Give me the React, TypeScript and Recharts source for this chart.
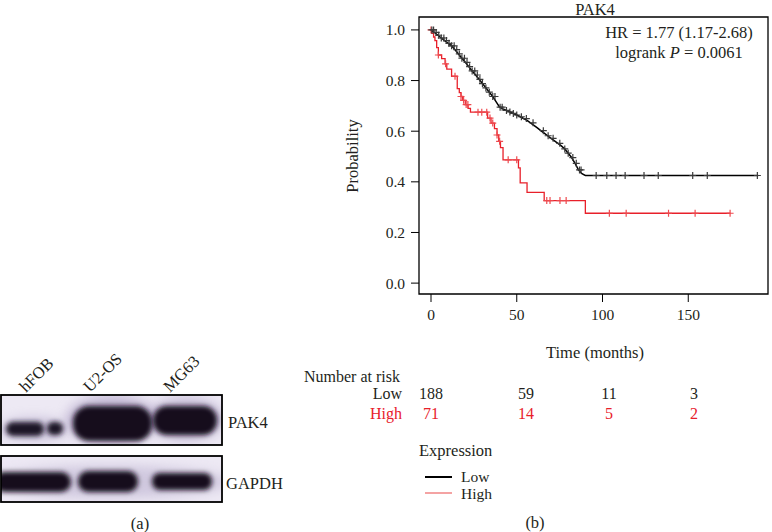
import { ComposedChart, Line, Scatter, XAxis, YAxis, ReferenceArea } from 'recharts'

// Kaplan-Meier steps
const lowTime = [0, 2, 4, 6, 8, 10, 12, 14, 16, 18, 20, 22, 24, 26, 28, 30, 32, 34, 36, 38, 40, 42, 44, 46, 48, 50, 52, 54, 56, 58, 60, 62, 64, 66, 68, 70, 72, 74, 76, 78, 80, 82, 84, 86, 88, 90, 190.8]
const lowSurv = [1.0, 0.99, 0.979, 0.968, 0.958, 0.947, 0.937, 0.922, 0.905, 0.888, 0.872, 0.855, 0.838, 0.822, 0.805, 0.788, 0.771, 0.754, 0.737, 0.716, 0.695, 0.688, 0.682, 0.676, 0.67, 0.664, 0.657, 0.65, 0.643, 0.633, 0.623, 0.613, 0.602, 0.592, 0.582, 0.572, 0.562, 0.552, 0.542, 0.53, 0.513, 0.496, 0.473, 0.447, 0.432, 0.425, 0.425]

const highTime = [0, 0.5, 1.5, 2.3, 3.3, 4.3, 6.2, 8.2, 9.2, 12, 15.3, 16.5, 17.5, 18.5, 20, 21.6, 23, 33, 35, 37, 38.5, 39.5, 40.5, 42, 51, 52, 56, 66, 90, 174.5]
const highSurv = [1.0, 0.986, 0.972, 0.958, 0.93, 0.901, 0.887, 0.866, 0.845, 0.817, 0.768, 0.752, 0.737, 0.722, 0.705, 0.69, 0.675, 0.652, 0.632, 0.61, 0.585, 0.56, 0.535, 0.487, 0.455, 0.396, 0.358, 0.326, 0.276, 0.276]

// censoring times
const lowCensor = [0.5, 1.5, 3, 4.5, 6, 7.5, 9, 10.5, 12, 13.5, 15, 16.5, 18, 19.5, 21, 22.5, 24, 25.5, 27, 28.5, 30, 32, 34, 36, 37.3, 40.3, 41.5, 44, 46, 48, 50, 52.7, 55.6, 59.5, 65.5, 68.3, 71.2, 75.1, 78, 80, 82.7, 84.7, 86.6, 87.5, 96.3, 102.5, 107.9, 113.2, 124.2, 132.5, 152.6, 161.1, 190.3]
const highCensor = [0, 4.3, 8.5, 14, 17.5, 19, 20.5, 21.5, 27.4, 29.6, 32.5, 34.4, 36, 38.5, 40, 45, 50, 67.5, 69.4, 75.2, 78.8, 104, 113.8, 138.5, 154, 174.4]

const xTicks = [0, 50, 100, 150]
const yTicks = [0, 0.2, 0.4, 0.6, 0.8, 1.0]

const riskGroups = ['Low', 'High']
const riskLow = ['188', '59', '11', '3']
const riskHigh = ['71', '14', '5', '2']

const lanes = ['hFOB', 'U2-OS', 'MG63']

const FONT = '"Liberation Serif", "DejaVu Serif", serif'
const INK = '#231f20'
const RED = '#e8202a'
const FS = 16.5

function stepAt(times: number[], surv: number[], t: number) {
    let s = surv[0]
    for (let i = 0; i < times.length; i++) {
        if (times[i] <= t) s = surv[i]
    }
    return s
}

const lowData = lowTime.map((t, i) => ({ t, s: lowSurv[i] }))
const highData = highTime.map((t, i) => ({ t, s: highSurv[i] }))
const lowMarks = lowCensor.map(t => ({ t, s: stepAt(lowTime, lowSurv, t) }))
const highMarks = highCensor.map(t => ({ t, s: stepAt(highTime, highSurv, t) }))

// "+" censor mark
function plus(color: string) {
    return (props: any) => {
        const { cx, cy } = props
        return (
            <path
                d={`M${cx - 3.5},${cy}H${cx + 3.5}M${cx},${cy - 3.5}V${cy + 3.5}`}
                stroke={color}
                strokeWidth={1.2}
                fill="none"
            />
        )
    }
}

const txt = (extra: any) => ({
    position: 'absolute' as const,
    fontFamily: FONT,
    fontSize: FS,
    color: INK,
    lineHeight: '12px',
    whiteSpace: 'nowrap' as const,
    ...extra,
})

function Blot() {
    return (
        <svg width={300} height={532} style={{ position: 'absolute', left: 0, top: 0 }}>
            <defs>
                <filter id="bl" x="-30%" y="-60%" width="160%" height="220%">
                    <feGaussianBlur stdDeviation="2.6" />
                </filter>
                <filter id="hz" x="-40%" y="-80%" width="180%" height="260%">
                    <feGaussianBlur stdDeviation="6" />
                </filter>
                <clipPath id="c1"><rect x={1} y={395} width={221} height={50} /></clipPath>
                <clipPath id="c2"><rect x={1} y={456} width={221} height={46} /></clipPath>
            </defs>
            <rect x={1} y={395} width={221} height={50} fill="#ede9f4" />
            <g clipPath="url(#c1)">
                <ellipse cx={34} cy={429} rx={34} ry={11} fill="#a395bd" opacity={0.5} filter="url(#hz)" />
                <ellipse cx={112} cy={420} rx={46} ry={24} fill="#9a88b6" opacity={0.55} filter="url(#hz)" />
                <ellipse cx={186} cy={419} rx={38} ry={21} fill="#9a88b6" opacity={0.5} filter="url(#hz)" />
                <rect x={6} y={422} width={38} height={14} rx={7} fill="#1b1226" filter="url(#bl)" />
                <rect x={47} y={422} width={16} height={13} rx={6} fill="#1b1226" filter="url(#bl)" />
                <rect x={73} y={406} width={79} height={35} rx={16} fill="#140b1e" filter="url(#bl)" />
                <rect x={153} y={406} width={64} height={29} rx={14} fill="#140b1e" filter="url(#bl)" />
            </g>
            <rect x={1} y={395} width={221} height={50} fill="none" stroke="#000" strokeWidth={1.8} />

            <rect x={1} y={456} width={221} height={46} fill="#ede9f4" />
            <g clipPath="url(#c2)">
                <ellipse cx={110} cy={482} rx={120} ry={16} fill="#a395bd" opacity={0.4} filter="url(#hz)" />
                <rect x={-6} y={472} width={77} height={20} rx={10} fill="#140b1e" filter="url(#bl)" />
                <rect x={78} y={471} width={60} height={21} rx={10} fill="#140b1e" filter="url(#bl)" />
                <rect x={152} y={473} width={60} height={17} rx={8} fill="#140b1e" filter="url(#bl)" />
            </g>
            <rect x={1} y={456} width={221} height={46} fill="none" stroke="#000" strokeWidth={1.8} />

            {lanes.map((name, i) => {
                const x0 = [26, 90, 170][i]
                return (
                    <text key={name} x={x0} y={393} transform={`rotate(-45 ${x0} 393)`}
                        fontFamily={FONT} fontSize={FS} fill={INK}>{name}</text>
                )
            })}
            <text x={228} y={428} fontFamily={FONT} fontSize={FS} fill={INK}>PAK4</text>
            <text x={226} y={489} fontFamily={FONT} fontSize={FS} fill={INK}>GAPDH</text>
            <text x={140} y={529} textAnchor="middle" fontFamily={FONT} fontSize={FS} fill={INK}>(a)</text>
        </svg>
    )
}

export default function App() {
    const riskX = [431, 526, 609, 694]
    return (
        <div style={{ position: 'relative', width: 772, height: 532, background: '#fff', overflow: 'hidden' }}>
            <style>{`body{margin:0}`}</style>
            <Blot />

            <div style={{ position: 'absolute', left: 340, top: 0 }}>
                <ComposedChart width={432} height={340} margin={{ top: 17, right: 4, left: 29, bottom: 16 }}>
                    <XAxis
                        dataKey="t"
                        type="number"
                        domain={[-7, 196.5]}
                        ticks={xTicks}
                        allowDataOverflow
                        axisLine={false}
                        tickLine={{ stroke: '#000' }}
                        tickSize={8}
                        tickMargin={7}
                        height={30}
                        tick={{ fill: INK, fontSize: 15.5, fontFamily: FONT }}
                    />
                    <YAxis
                        type="number"
                        domain={[-0.043, 1.051]}
                        ticks={yTicks}
                        allowDataOverflow
                        axisLine={false}
                        tickLine={{ stroke: '#000' }}
                        tickSize={8}
                        tickMargin={6}
                        width={50}
                        tickFormatter={(v: number) => v.toFixed(1)}
                        tick={{ fill: INK, fontSize: 15.5, fontFamily: FONT }}
                    />
                    <ReferenceArea x1={-7} x2={196.5} y1={-0.043} y2={1.051} fill="none" stroke="#000" strokeWidth={1.3} ifOverflow="visible" />
                    <Line data={highData} dataKey="s" type="stepAfter" stroke={RED} strokeWidth={1.3} dot={false} isAnimationActive={false} />
                    <Line data={lowData} dataKey="s" type="linear" stroke="#000" strokeWidth={1.5} dot={false} isAnimationActive={false} />
                    <Scatter data={highMarks} dataKey="s" shape={plus('#ee4a4f')} isAnimationActive={false} />
                    <Scatter data={lowMarks} dataKey="s" shape={plus('#3a3a3a')} isAnimationActive={false} />
                </ComposedChart>
            </div>

            <div style={txt({ left: 595, top: 4, transform: 'translateX(-50%)' })}>PAK4</div>
            <div style={txt({ left: 679, top: 27, transform: 'translateX(-50%)' })}>HR = 1.77 (1.17-2.68)</div>
            <div style={txt({ left: 679, top: 47, transform: 'translateX(-50%)' })}>logrank <i>P</i> = 0.0061</div>
            <div style={txt({ left: 353, top: 156, transform: 'translate(-50%, -50%) rotate(-90deg)' })}>Probability</div>
            <div style={txt({ left: 595, top: 347, transform: 'translateX(-50%)' })}>Time (months)</div>

            <div style={txt({ left: 304, top: 371, fontSize: 16 })}>Number at risk</div>
            {riskGroups.map((g, r) => (
                <div key={g} style={txt({ left: 402, top: 388 + r * 20, fontSize: 16, transform: 'translateX(-100%)', color: r ? RED : INK })}>{g}</div>
            ))}
            {riskLow.map((v, i) => (
                <div key={'l' + i} style={txt({ left: riskX[i], top: 388, fontSize: 16, transform: 'translateX(-50%)' })}>{v}</div>
            ))}
            {riskHigh.map((v, i) => (
                <div key={'h' + i} style={txt({ left: riskX[i], top: 408, fontSize: 16, transform: 'translateX(-50%)', color: RED })}>{v}</div>
            ))}

            <div style={txt({ left: 419, top: 445 })}>Expression</div>
            <div style={{ position: 'absolute', left: 425, top: 476, width: 27, height: 1.5, background: '#000' }} />
            <div style={{ position: 'absolute', left: 425, top: 492, width: 27, height: 1.5, background: '#f4a3a3' }} />
            <div style={txt({ left: 461, top: 471, fontSize: 15.5 })}>Low</div>
            <div style={txt({ left: 461, top: 488, fontSize: 15.5 })}>High</div>
            <div style={txt({ left: 535, top: 517, transform: 'translateX(-50%)' })}>(b)</div>
        </div>
    )
}
